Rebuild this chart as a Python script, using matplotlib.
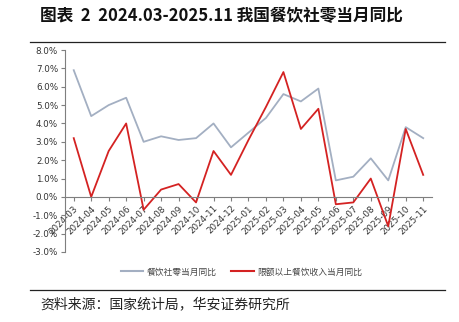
import matplotlib
matplotlib.use("Agg")
import matplotlib.pyplot as plt
from matplotlib.lines import Line2D
from matplotlib.ticker import FuncFormatter

plt.rcParams["font.family"] = ["Noto Sans CJK SC", "DejaVu Sans"]

months = [
    "2024-03", "2024-04", "2024-05", "2024-06", "2024-07", "2024-08", "2024-09",
    "2024-10", "2024-11", "2024-12", "2025-01", "2025-02", "2025-03", "2025-04",
    "2025-05", "2025-06", "2025-07", "2025-08", "2025-09", "2025-10", "2025-11",
]
# 餐饮社零当月同比 (%)
catering_retail = [6.9, 4.4, 5.0, 5.4, 3.0, 3.3, 3.1, 3.2, 4.0, 2.7, 3.5,
                   4.3, 5.6, 5.2, 5.9, 0.9, 1.1, 2.1, 0.9, 3.8, 3.2]
# 限额以上餐饮收入当月同比 (%)
catering_above = [3.2, 0.0, 2.5, 4.0, -0.7, 0.4, 0.7, -0.3, 2.5, 1.2, 3.1,
                  4.9, 6.8, 3.7, 4.8, -0.4, -0.3, 1.0, -1.6, 3.7, 1.2]

labels = ["餐饮社零当月同比", "限额以上餐饮收入当月同比"]
title = "图表  2  2024.03-2025.11 我国餐饮社零当月同比"
source = "资料来源：国家统计局，华安证券研究所"

GRAY = "#A3AFC2"
RED = "#D42222"

fig = plt.figure(figsize=(4.6, 3.22), dpi=100)
ax = fig.add_axes([0.1413, 0.2174, 0.7977, 0.6273])

x = list(range(len(months)))
ax.plot(x, catering_retail, color=GRAY, lw=1.3)
ax.plot(x, catering_above, color=RED, lw=1.3)

ax.set_xlim(-0.5, len(months) - 0.5)
ax.set_ylim(-3, 8)
ax.set_yticks(range(-3, 9))
ax.yaxis.set_major_formatter(FuncFormatter(lambda v, _: f"{v:.1f}%"))

ax.spines["top"].set_visible(False)
ax.spines["right"].set_visible(False)
ax.spines["bottom"].set_position(("data", 0))
for s in ("left", "bottom"):
    ax.spines[s].set_color("#7F7F7F")
    ax.spines[s].set_linewidth(0.8)

ax.set_xticks(x)
ax.set_xticklabels(months, rotation=45, ha="right", va="top",
                   rotation_mode="anchor", fontsize=6.3, color="#333333",
                   family="DejaVu Sans")
ax.tick_params(axis="x", length=3, color="#7F7F7F", pad=2, direction="out")
ax.tick_params(axis="y", length=3, color="#7F7F7F", labelsize=6.3,
               labelcolor="#333333", pad=2)
for t in ax.get_yticklabels():
    t.set_family("DejaVu Sans")

handles = [Line2D([], [], color=GRAY, lw=1.5), Line2D([], [], color=RED, lw=1.5)]
fig.legend(handles, labels, loc="center", bbox_to_anchor=(0.525, 1 - 272 / 322),
           ncol=2, frameon=False, fontsize=6.3, handlelength=2.6,
           columnspacing=1.7, handletextpad=0.35, labelcolor="#444444")

fig.text(40 / 460, 1 - 16 / 322, title, fontsize=12, fontweight="bold",
         ha="left", va="center", color="#111111")
fig.add_artist(Line2D([30 / 460, 445 / 460], [1 - 42 / 322] * 2,
                      color="#222222", lw=0.9))
fig.add_artist(Line2D([30 / 460, 445 / 460], [1 - 290 / 322] * 2,
                      color="#222222", lw=0.9))
fig.text(40 / 460, 1 - 304 / 322, source, fontsize=10, ha="left",
         va="center", color="#222222")

fig.savefig("out.png", dpi=100)
